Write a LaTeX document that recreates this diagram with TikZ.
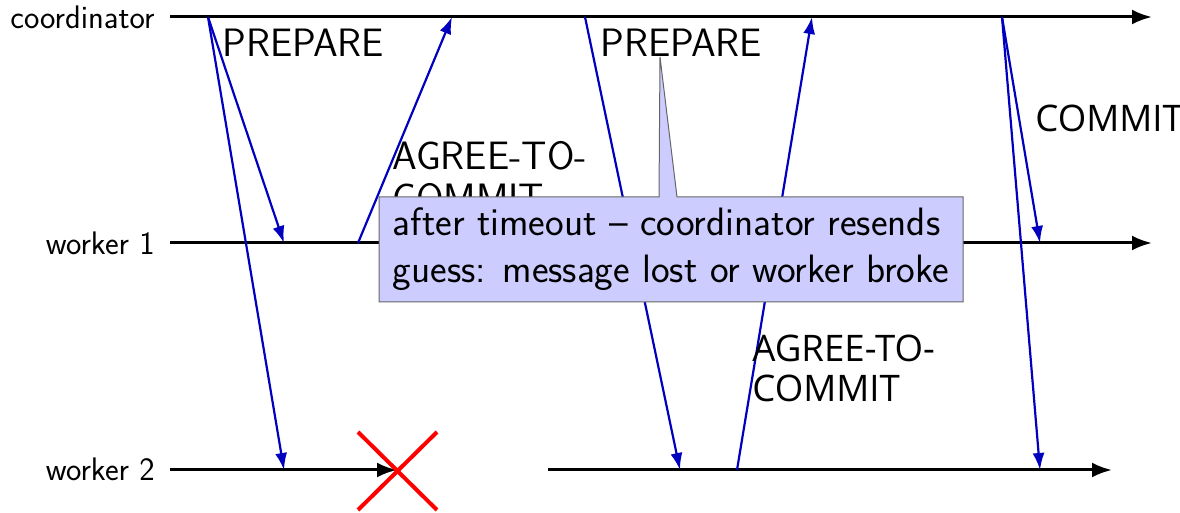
\documentclass[tikz,border=0pt]{standalone}
\usepackage{fontspec}
\newfontfamily\osans{Open Sans}
\usetikzlibrary{arrows.meta,shapes.callouts}

\definecolor{msgblue}{RGB}{0,0,190}
\definecolor{notefill}{RGB}{204,204,255}

\tikzset{
  lifeline/.style={line width=1.5pt,-{Latex[length=10pt,width=7.5pt]}},
  msg/.style={draw=msgblue,line width=1.1pt,-{Latex[length=8.5pt,width=6pt]}},
  procname/.style={font=\sffamily\fontsize{16.3}{18}\selectfont,inner sep=0pt,anchor=base east},
  msglabel/.style={font=\sffamily\fontsize{19.8}{21}\selectfont,inner sep=0pt,anchor=north west,align=left},
  msglabelb/.style={font=\osans\fontsize{18.3}{20}\selectfont,inner sep=0pt,anchor=north west,align=left},
  crash/.style={draw=red,line width=2pt},
  note/.style={rectangle callout,draw=black!60,line width=0.5pt,fill=notefill,
    font=\sffamily\fontsize{19.8}{23.5}\selectfont,align=left,
    inner sep=0pt,minimum width=292pt,minimum height=52.5pt,
    callout pointer width=9pt},
}

\begin{document}
\begin{tikzpicture}[x=0.5pt,y=-0.5pt]
\useasboundingbox (0,0) rectangle (1180,513);

% process names
\node[procname] (ncoord) at (155,29) {coordinator};
\node[procname] (nw1) at (155,255) {worker 1};
\node[procname] (nw2) at (155,481) {worker 2};

% lifeline end points
\coordinate (cS) at (170,17);   \coordinate (cE) at (1152,17);
\coordinate (aS) at (170,243);  \coordinate (aE) at (1152,243);
\coordinate (bS) at (170,470);  \coordinate (bX) at (397,470);
\coordinate (bR) at (548,470);  \coordinate (bE) at (1112,470);

\draw[lifeline] (cS) -- (cE);
\draw[lifeline] (aS) -- (aE);
\draw[lifeline] (bS) -- (bX);
\draw[lifeline] (bR) -- (bE);

% worker 2 crashes
\coordinate (x1) at (358,432); \coordinate (x2) at (437,510);
\coordinate (x3) at (358,510); \coordinate (x4) at (437,432);
\draw[crash] (x1) -- (x2);
\draw[crash] (x3) -- (x4);

% message events
\coordinate (p1) at (208,17);
\coordinate (p1a) at (284,243);
\coordinate (p1b) at (284,470);
\coordinate (r1) at (358,243);
\coordinate (r1c) at (452,17);
\coordinate (p2) at (585,17);
\coordinate (p2b) at (680,470);
\coordinate (r2) at (737,470);
\coordinate (r2c) at (812,17);
\coordinate (k) at (1002,17);
\coordinate (ka) at (1040,243);
\coordinate (kb) at (1040,470);

\draw[msg] (p1) -- (p1a);
\draw[msg] (p1) -- (p1b);
\draw[msg] (r1) -- (r1c);
\draw[msg] (p2) -- (p2b);
\draw[msg] (r2) -- (r2c);
\draw[msg] (k) -- (ka);
\draw[msg] (k) -- (kb);

% message labels
\node[msglabel] (lp1) at (222,29) {PREPARE};
\node[msglabel] (lp2) at (600,29) {PREPARE};
\node[msglabel] (lr1) at (392,141) {AGREE-TO-\\COMMIT};
\node[msglabelb] (lr2) at (752,335) {AGREE-TO-\\COMMIT};
\node[msglabelb] (lk) at (1035,105) {COMMIT};

% timeout note
\coordinate (tip) at (660,57);
\node[note,callout absolute pointer=(tip)] (timeout) at (671,249.5)
  {after timeout -- coordinator resends\\guess: message lost or worker broke};
\end{tikzpicture}
\end{document}
